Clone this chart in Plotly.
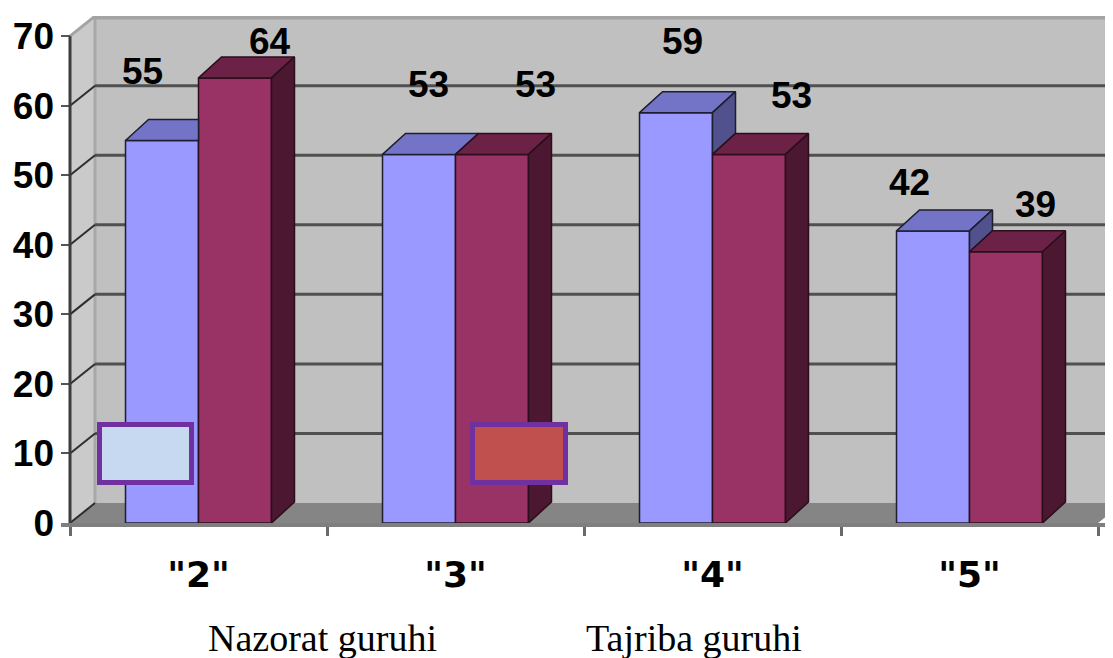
import plotly.graph_objects as go

# ---------------- data ----------------
categories = ['"2"', '"3"', '"4"', '"5"']
nazorat = [55, 53, 59, 42]
tajriba = [64, 53, 53, 39]
series_names = ["Nazorat guruhi", "Tajriba guruhi"]
y_ticks = [0, 10, 20, 30, 40, 50, 60, 70]

# ---------------- layout / style constants ----------------
OFF = 8                      # default page body margin in the browser
PAGE_W, PAGE_H = 1113, 658
W, H = PAGE_W - OFF, PAGE_H - OFF
AXIS_X_PAGE, BASE_Y_PAGE, TOP_Y_PAGE, LEFT_PAGE = 70, 523, 16, 61
ML = LEFT_PAGE - OFF
MT = TOP_Y_PAGE - OFF
MB = PAGE_H - BASE_Y_PAGE
MR = 0
PX_PER_CAT = 257.0
Y_MAX = 72.9
plot_w = W - ML - MR
plot_h = H - MT - MB
px_per_unit = plot_h / Y_MAX
x_lo = -0.5 - (AXIS_X_PAGE - LEFT_PAGE) / PX_PER_CAT
x_hi = x_lo + plot_w / PX_PER_CAT

# 3D offsets (pixels -> data units)
WALL_DX, WALL_DY = 25 / PX_PER_CAT, 20 / px_per_unit
BAR_DX, BAR_DY = 23 / PX_PER_CAT, 21 / px_per_unit
BAR_W = 0.284

BLUE_FRONT, BLUE_TOP, BLUE_SIDE = "#9999FF", "#7373C8", "#51518E"
RED_FRONT, RED_TOP, RED_SIDE = "#993366", "#6C2246", "#4B1731"
EDGE = "#1E1E2E"

# pixel offsets of value labels relative to the bar front-top centre (blue, red per category)
label_offsets = [(-20, 69), (35, 36), (9, 70), (44, 70), (6, 71), (43, 59), (-24, 48), (30, 47)]

LABEL_FONT = dict(family="Liberation Sans, Arial, sans-serif", size=37, color="black", weight="bold")

xs = list(range(len(categories)))
fig = go.Figure()

# front faces of bars
fig.add_trace(go.Bar(x=xs, y=nazorat, name=series_names[0], width=BAR_W, offset=-BAR_W,
                     marker=dict(color=BLUE_FRONT, line=dict(color=EDGE, width=1.5)),
                     showlegend=False, hoverinfo="skip"))
fig.add_trace(go.Bar(x=xs, y=tajriba, name=series_names[1], width=BAR_W, offset=0,
                     marker=dict(color=RED_FRONT, line=dict(color="#2A0E1C", width=1.5)),
                     showlegend=False, hoverinfo="skip"))


def poly(px, py, color, edge):
    fig.add_trace(go.Scatter(x=px + [px[0]], y=py + [py[0]], mode="lines", fill="toself",
                             fillcolor=color, line=dict(color=edge, width=1.5),
                             showlegend=False, hoverinfo="skip"))


for i, (vb, vr) in enumerate(zip(nazorat, tajriba)):
    x0b, x1b = i - BAR_W, i
    x0r, x1r = i, i + BAR_W
    # blue top face (clipped by the taller red front face)
    if vr > vb:
        poly([x0b, x1b, x1b, x0b + BAR_DX], [vb, vb, vb + BAR_DY, vb + BAR_DY], BLUE_TOP, EDGE)
    else:
        poly([x0b, x1b, x1b + BAR_DX, x0b + BAR_DX], [vb, vb, vb + BAR_DY, vb + BAR_DY], BLUE_TOP, EDGE)
        if vb > vr:
            poly([x1b, x1b, x1b + BAR_DX, x1b + BAR_DX], [vr, vb, vb + BAR_DY, vr + BAR_DY], BLUE_SIDE, EDGE)
    # red top and side faces
    poly([x0r, x1r, x1r + BAR_DX, x0r + BAR_DX], [vr, vr, vr + BAR_DY, vr + BAR_DY], RED_TOP, "#2A0E1C")
    poly([x1r, x1r, x1r + BAR_DX, x1r + BAR_DX], [0, vr, vr + BAR_DY, BAR_DY], RED_SIDE, "#2A0E1C")

shapes = []
x_wall = -0.5 + WALL_DX
# back wall
shapes.append(dict(type="rect", xref="x", yref="y", x0=x_wall, x1=x_hi + 1, y0=WALL_DY, y1=Y_MAX + 1,
                   fillcolor="#C0C0C0", line=dict(width=0), layer="below"))
# side wall
shapes.append(dict(type="path", xref="x", yref="y", layer="below", fillcolor="#CACACA", line=dict(width=0),
                   path=f"M {-0.5},0 L {x_wall},{WALL_DY} L {x_wall},{70 + WALL_DY} L {-0.5},70 Z"))
# floor
shapes.append(dict(type="path", xref="x", yref="y", layer="below", fillcolor="#858585", line=dict(width=0),
                   path=f"M {-0.5},0 L {3.5},0 L {3.5 + WALL_DX},{WALL_DY} L {x_wall},{WALL_DY} Z"))
# wall edges
shapes.append(dict(type="line", xref="x", yref="y", layer="below", x0=x_wall, x1=x_wall, y0=WALL_DY,
                   y1=70 + WALL_DY, line=dict(color="#A8A8A8", width=3)))
shapes.append(dict(type="line", xref="x", yref="y", layer="below", x0=x_wall, x1=x_hi + 1, y0=70 + WALL_DY - 0.2,
                   y1=70 + WALL_DY - 0.2, line=dict(color="#A3A3A3", width=4)))
shapes.append(dict(type="line", xref="x", yref="y", layer="below", x0=-0.5, x1=x_wall, y0=70, y1=70 + WALL_DY,
                   line=dict(color="#A3A3A3", width=3)))
# gridlines on back wall + slanted lines on side wall
for v in y_ticks:
    if 0 < v < 70:
        shapes.append(dict(type="line", xref="x", yref="y", layer="below", x0=x_wall, x1=x_hi + 1,
                           y0=v + WALL_DY, y1=v + WALL_DY, line=dict(color="#505050", width=3)))
    if v < 70:
        shapes.append(dict(type="line", xref="x", yref="y", layer="below", x0=-0.5, x1=x_wall,
                           y0=v, y1=v + WALL_DY, line=dict(color="#2E2E2E", width=2)))
# y-axis line
shapes.append(dict(type="line", xref="x", yref="y", x0=-0.5, x1=-0.5, y0=0, y1=70,
                   line=dict(color="#3C3C3C", width=3)))


def px2paper(px, py):
    """page pixel -> paper coordinates"""
    return (px - OFF - ML) / plot_w, (H - MB - (py - OFF)) / plot_h


# legend key boxes
for (bx0, by0, bx1, by1), fill in [((99.5, 424.5, 191.5, 482.5), "#C6D9F1"),
                                   ((472.5, 424.5, 565.5, 482.5), "#C0504D")]:
    ax0, ay0 = px2paper(bx0, by0)
    ax1, ay1 = px2paper(bx1, by1)
    shapes.append(dict(type="rect", xref="paper", yref="paper", x0=ax0, x1=ax1, y0=ay1, y1=ay0,
                       fillcolor=fill, line=dict(color="#7030A0", width=5), layer="above"))

annotations = []
k = 0
for i, (vb, vr) in enumerate(zip(nazorat, tajriba)):
    for v, xc in ((vb, i - BAR_W / 2), (vr, i + BAR_W / 2)):
        dx, dy = label_offsets[k]
        k += 1
        annotations.append(dict(x=xc, y=v, xref="x", yref="y", text=str(v), showarrow=False,
                                xshift=dx, yshift=dy, xanchor="center", yanchor="middle", font=LABEL_FONT))

for name, cx in zip(series_names, (322, 694)):
    ax, ay = px2paper(cx, 638)
    annotations.append(dict(x=ax, y=ay, xref="paper", yref="paper", text=name, showarrow=False,
                            xanchor="center", yanchor="middle",
                            font=dict(family="Liberation Serif, Times New Roman, serif", size=38, color="black")))

fig.update_layout(
    width=W, height=H,
    margin=dict(l=ML, r=MR, t=MT, b=MB, pad=0, autoexpand=False),
    paper_bgcolor="white", plot_bgcolor="white",
    barmode="overlay",
    shapes=shapes, annotations=annotations,
    xaxis=dict(range=[x_lo, x_hi], tickvals=xs, ticktext=categories, ticks="", automargin=False,
               showgrid=False, zeroline=False, showline=True, linecolor="#7F7F7F", linewidth=4,
               tickfont=dict(family="DejaVu Sans, Verdana, sans-serif", size=36, color="black", weight="bold"),
               ticklabelstandoff=17,
               minor=dict(tick0=-0.5, dtick=1, ticks="outside", ticklen=9, tickcolor="#6A6A6A", tickwidth=3)),
    yaxis=dict(range=[0, Y_MAX], tickvals=y_ticks, ticks="inside", ticklen=9, tickcolor="#555555", tickwidth=2,
               showgrid=False, zeroline=False, showline=False, automargin=False,
               tickfont=LABEL_FONT, ticklabelstandoff=6),
)

fig.write_html("out.html")
